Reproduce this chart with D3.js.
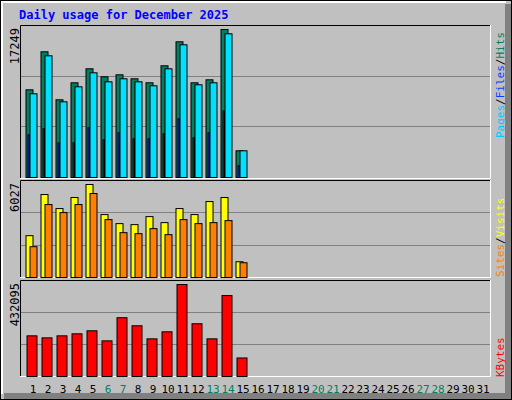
<!DOCTYPE html>
<html><head><meta charset="utf-8">
<script src="https://cdn.jsdelivr.net/npm/d3@7"></script>
<style>body{margin:0;background:#fff}svg text{font-family:"DejaVu Sans Mono",monospace}</style>
</head><body>
<script>
const days = d3.range(1, 32);
const weekend = [6, 7, 13, 14, 20, 21, 27, 28];
const hits = [10221,14650,9056,11037,12669,11736,11969,11503,11037,13018,15815,11037,11386,17249,3112];
const files = [9755,14184,8823,10571,12202,11153,11503,11153,10687,12669,15466,10804,11037,16748,3112];
const pages = [4977,5676,4044,4044,5792,4394,5210,4510,4510,5093,6841,4627,5210,7774,1364];
const sites = [2711,5377,4467,5182,6027,4077,3491,3426,3946,3556,4467,4077,4922,5182,1021];
const visits = [1996,4727,4207,4727,5442,3751,2906,2841,3166,2776,3751,3491,3556,3686,956];
const kbytes = [190990,181535,190990,200445,214627,167353,276085,238265,176808,209900,432095,247720,176808,380093,86986];

const W = 512, H = 400, left = 20, right = 491;
const svg = d3.select('body').append('svg').attr('width', W).attr('height', H);

// рамка
svg.append('rect').attr('width', W).attr('height', H).attr('fill', '#c0c0c0');
svg.append('path').attr('d', `M${W-4},4 V${H-4} H4`).attr('stroke', '#808080').attr('stroke-width', 6).attr('fill', 'none');
svg.append('path').attr('d', `M2,${H-6} V2 H${W-6}`).attr('stroke', '#fff').attr('stroke-width', 2).attr('fill', 'none');
svg.append('rect').attr('x', 0.5).attr('y', 0.5).attr('width', W-1).attr('height', H-1).attr('fill', 'none').attr('stroke', '#000');

svg.append('text').attr('x', 19).attr('y', 19).attr('fill', '#0000ff').attr('font-weight', 'bold')
  .attr('font-size', 12).text('Daily usage for December 2025');

const x = d3.scaleBand().domain(days).range([18, 483]);

function panel(top, bottom, maxY, base, maxLabel) {
  const g = svg.append('g');
  g.append('rect').attr('x', left).attr('y', top).attr('width', right-left).attr('height', bottom-top).attr('fill', '#c0c0c0');
  const y = d3.scaleLinear().domain([0, maxLabel]).range([base, maxY]);
  const h = base - top;
  [1/3, 2/3].forEach(f => g.append('line').attr('x1', left).attr('x2', right)
    .attr('y1', Math.round(base - h*f) + 0.5).attr('y2', Math.round(base - h*f) + 0.5).attr('stroke', '#808080'));
  g.append('path').attr('d', `M${left+.5},${bottom} V${top+.5} H${right}`).attr('stroke', '#000').attr('fill', 'none');
  g.append('path').attr('d', `M${left},${bottom-.5} H${right-.5} V${top}`).attr('stroke', '#fff').attr('fill', 'none');
  g.append('text').attr('transform', `translate(19,${top+3}) rotate(-90)`).attr('text-anchor', 'end')
    .attr('font-size', 12).attr('fill', '#000').text(maxLabel);
  return {g, y, base};
}

function bars(p, data, dx, w, fill, stroke) {
  p.g.selectAll(null).data(data).join('rect')
    .attr('x', (d, i) => x(days[i]) + dx + .5)
    .attr('y', d => p.y(d) + .5)
    .attr('width', w).attr('height', d => p.base - p.y(d))
    .attr('fill', fill).attr('stroke', stroke);
}

const p1 = panel(25, 179, 29, 177, 17249);
bars(p1, hits, 7.5, 7, '#008060', '#000');
bars(p1, files, 11.5, 7, '#00e0ff', '#000');
bars(p1, pages, 9.5, 1.5, '#0040ff', '#000');

const p2 = panel(180, 278, 184, 277, 6027);
bars(p2, sites, 7.5, 7, '#ffff00', '#000');
bars(p2, visits, 11.5, 7, '#ff8000', '#000');

const p3 = panel(280, 377, 284, 376, 432095);
bars(p3, kbytes, 8.5, 10, '#ff0000', '#000');

svg.selectAll('.day').data(days).join('text')
  .attr('x', d => x(d) + 15).attr('y', 393).attr('text-anchor', 'middle').attr('font-size', 11)
  .attr('font-family', 'DejaVu Sans').attr('fill', d => weekend.includes(d) ? '#008060' : '#000').text(d => d);

function legend(yStart, parts) {
  const t = svg.append('text').attr('transform', `translate(504,${yStart}) rotate(-90)`).attr('font-size', 11);
  parts.forEach(([s, c]) => t.append('tspan').attr('fill', c).text(s));
}
legend(138, [['Pages', '#00c8ff'], ['/', '#000'], ['Files', '#0040ff'], ['/', '#000'], ['Hits', '#008060']]);
legend(277, [['Sites', '#ff8000'], ['/', '#000'], ['Visits', '#ffff00']]);
legend(377, [['KBytes', '#ff0000']]);
</script>
</body></html>
